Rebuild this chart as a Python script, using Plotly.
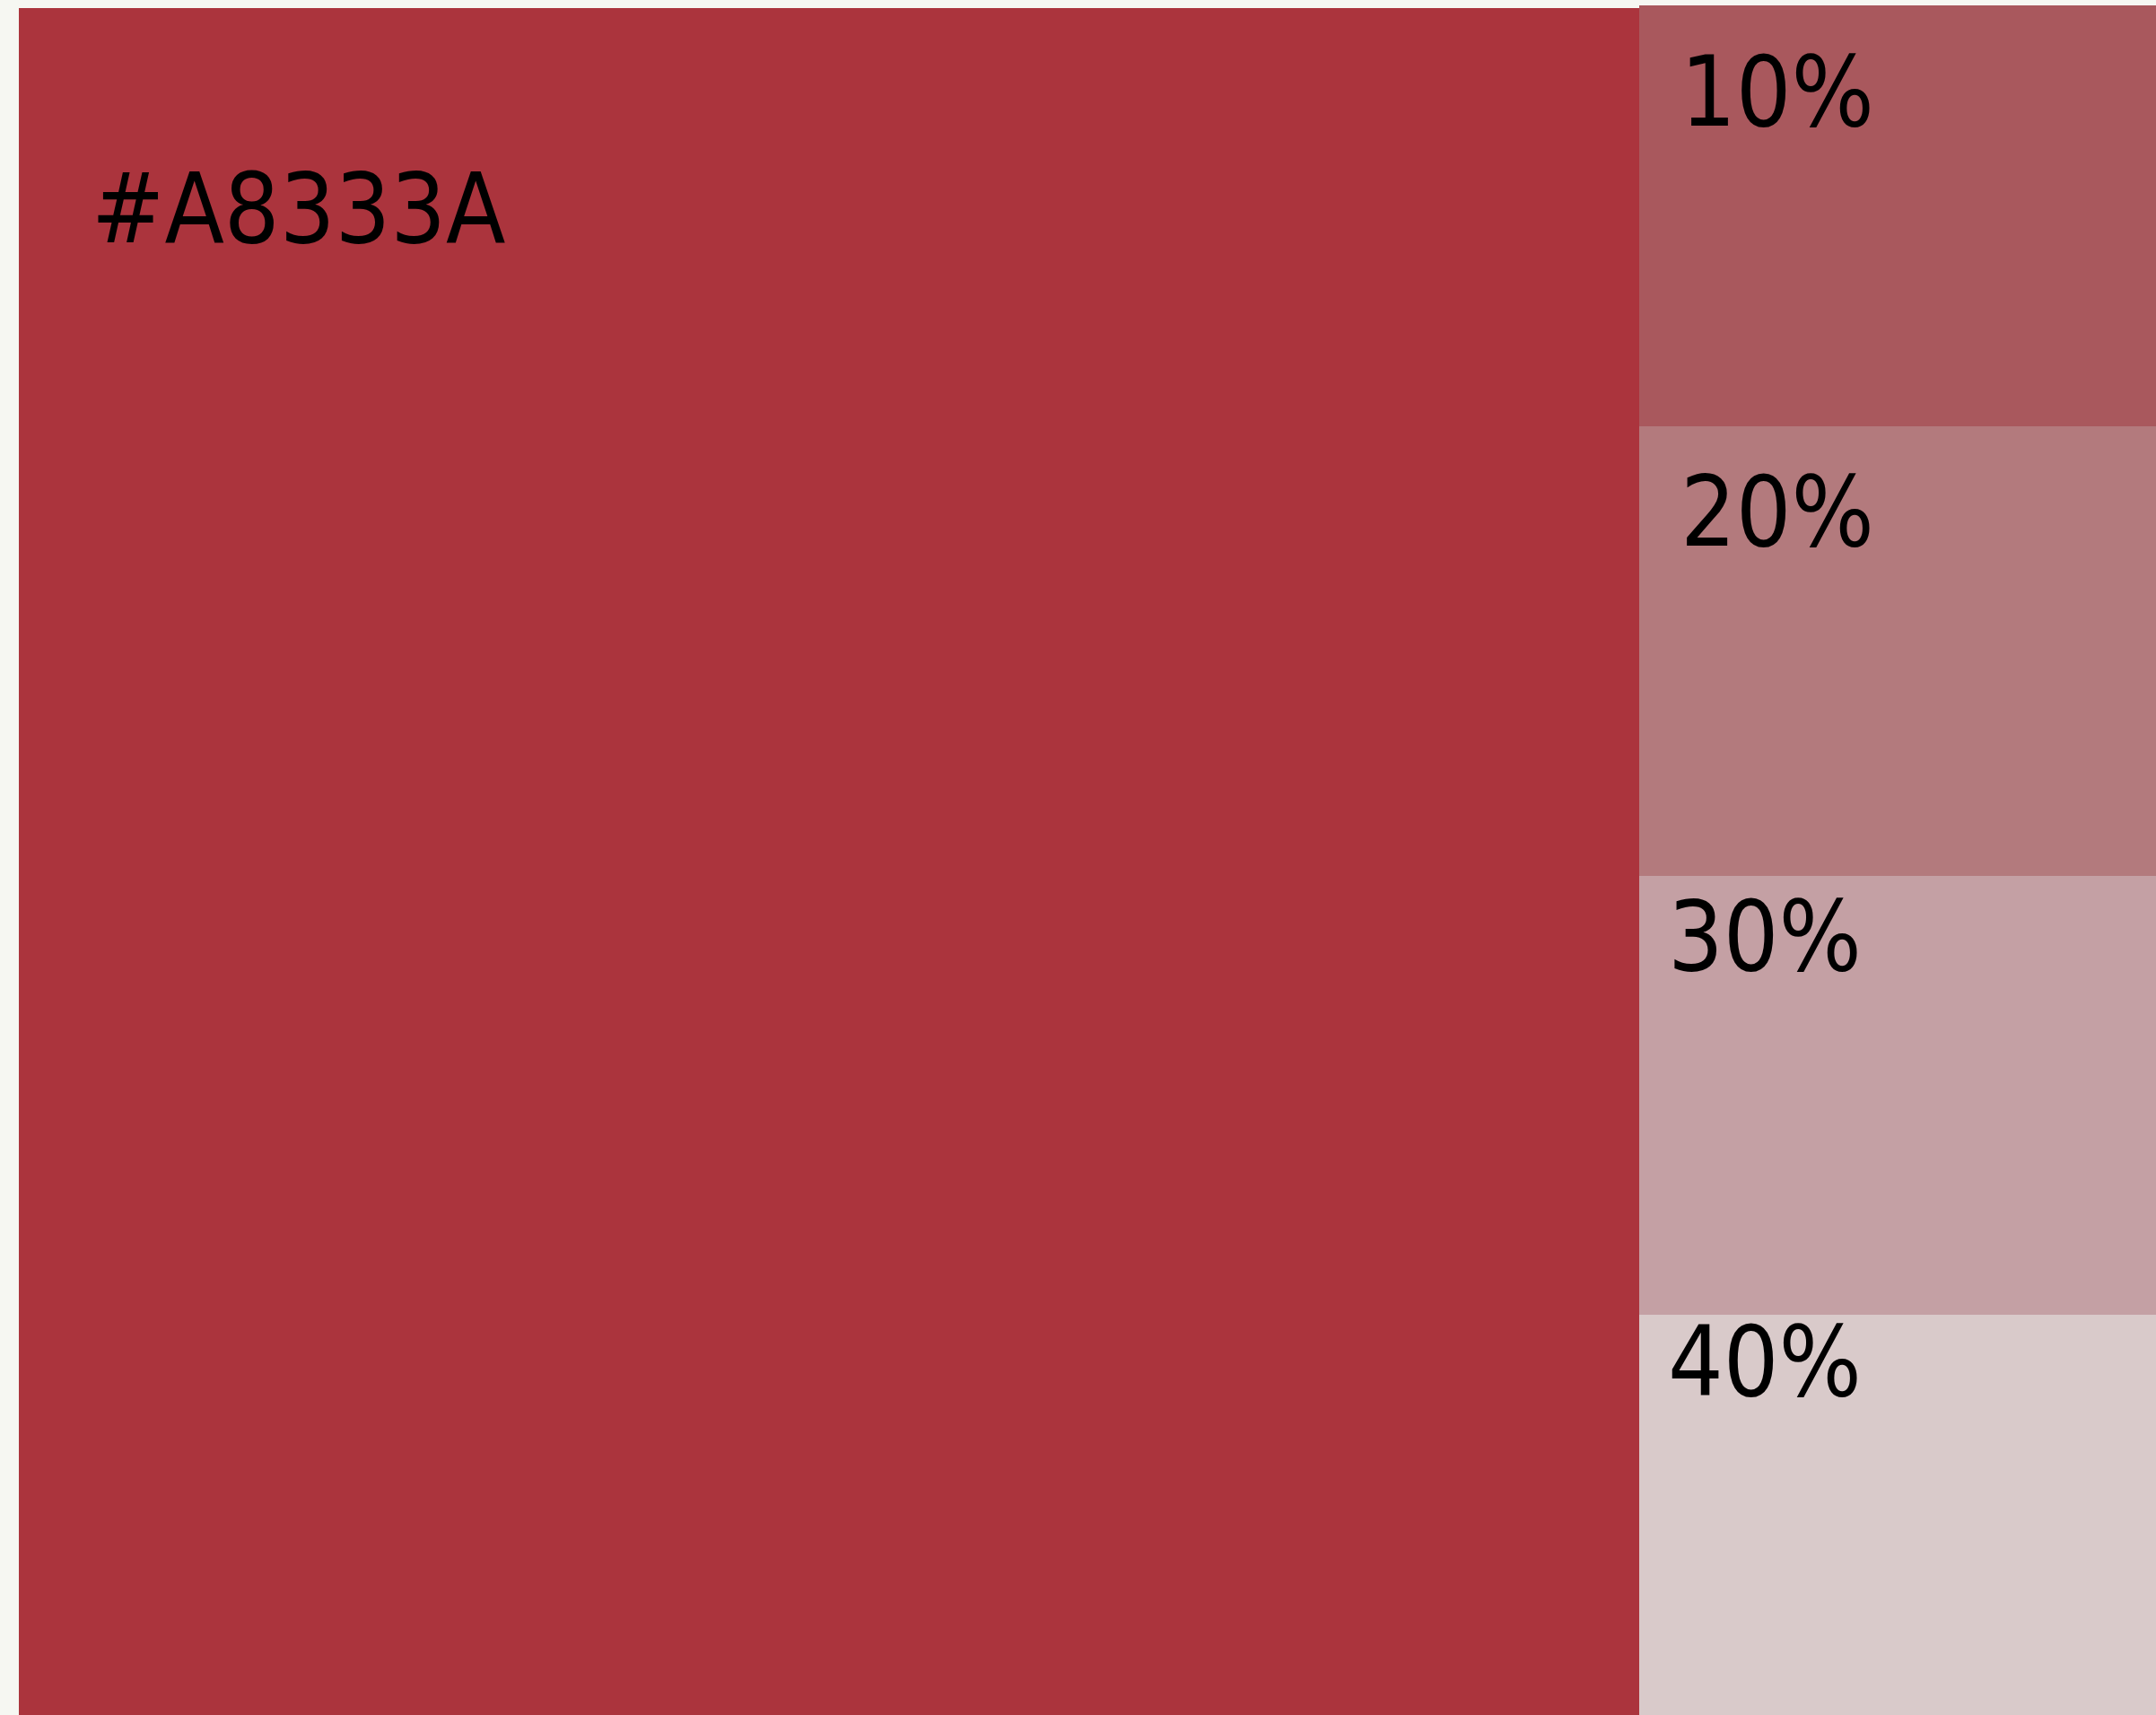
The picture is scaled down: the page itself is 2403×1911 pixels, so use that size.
import plotly.graph_objects as go

# ---- data ----
base_label = "#A8333A"
base_color = "#AB343D"
base_width = 1806          # width of the base swatch
base_top = 9
base_height = 1902

tint_labels = ["10%", "20%", "30%", "40%"]
tint_colors = ["#A9585D", "#B37A7D", "#C4A0A4", "#D9CACA"]
tint_heights = [469, 501, 489, 446]
tint_width = 576
tint_top = 6

# ---- layout / style ----
W, H = 2403, 1911
left_pad = 21
bg = "#F6F7F2"
font_family = "DejaVu Sans Condensed, DejaVu Sans, sans-serif"
font_size = 108

fig = go.Figure()

base_x0 = left_pad
base_cx = base_x0 + base_width / 2
fig.add_trace(go.Bar(
    x=[base_cx], y=[base_height], base=[base_top], width=[base_width],
    marker=dict(color=base_color, line=dict(width=0)),
    hoverinfo="skip", showlegend=False,
))

tint_x0 = base_x0 + base_width
tint_cx = tint_x0 + tint_width / 2
bases = []
acc = tint_top
for h in tint_heights:
    bases.append(acc)
    acc += h
for lab, col, h, b in zip(tint_labels, tint_colors, tint_heights, bases):
    fig.add_trace(go.Bar(
        x=[tint_cx], y=[h], base=[b], width=[tint_width],
        marker=dict(color=col, line=dict(width=0)),
        hoverinfo="skip", showlegend=False, name=lab,
    ))

# label offsets (left, cap-middle) relative to each swatch's top-left corner
base_off = (79, 223)
tint_offs = [(44, 96), (44, 95), (30, 67), (30, 52)]

annots = [dict(x=base_x0 + base_off[0], y=base_top + base_off[1], text=base_label)]
for lab, b, off in zip(tint_labels, bases, tint_offs):
    annots.append(dict(x=tint_x0 + off[0], y=b + off[1], text=lab))
for a in annots:
    a.update(xref="x", yref="y", xanchor="left", yanchor="middle", showarrow=False,
             font=dict(family=font_family, size=font_size, color="#000000"))

fig.update_layout(
    width=W, height=H,
    margin=dict(l=0, r=0, t=0, b=0),
    paper_bgcolor=bg, plot_bgcolor=bg,
    barmode="overlay", bargap=0,
    annotations=annots,
    xaxis=dict(range=[0, W], visible=False, fixedrange=True),
    yaxis=dict(range=[H, 0], visible=False, fixedrange=True),
)

fig.write_html(
    "out.html",
    config={"displayModeBar": False},
    post_script="document.body.style.margin='0';document.body.style.overflow='hidden';"
                "document.body.style.background='%s';" % bg,
)
